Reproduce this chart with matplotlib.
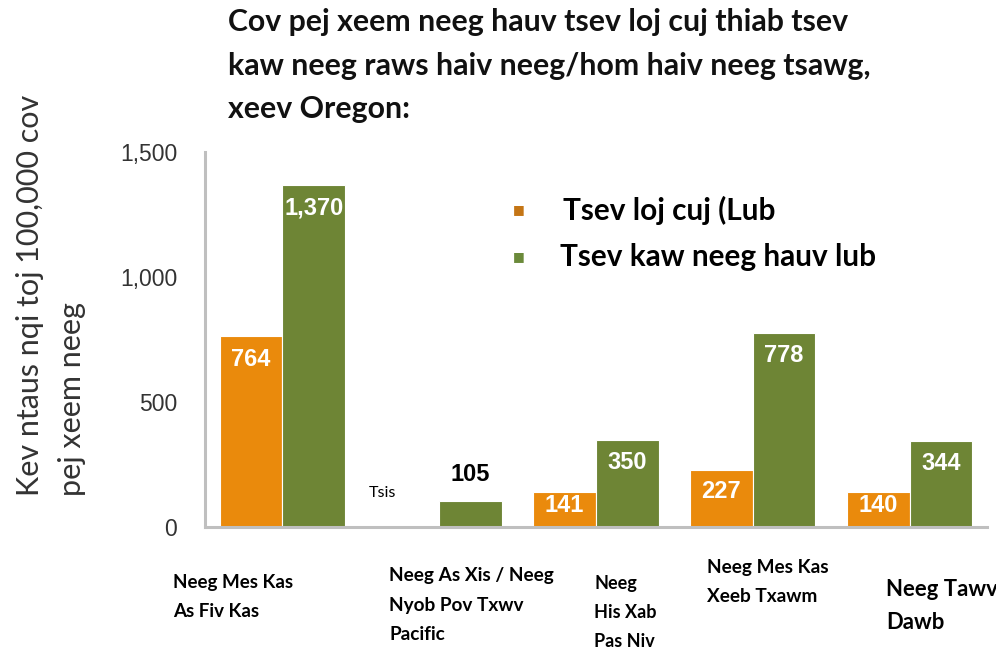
import numpy as np
import matplotlib
matplotlib.use("Agg")
import matplotlib.pyplot as plt
import matplotlib.transforms as mtransforms

# ── Data ──────────────────────────────────────────────────────────────────────
groups = [
    "Neeg Mes Kas\nAs Fiv Kas",
    "Neeg As Xis / Neeg\nNyob Pov Txwv\nPacific",
    "Neeg\nHis Xab\nPas Niv",
    "Neeg Mes Kas\nXeeb Txawm",
    "Neeg Tawv\nDawb",
]
prison = [764, np.nan, 141, 227, 140]      # Tsev loj cuj (Lub
jail = [1370, 105, 350, 778, 344]          # Tsev kaw neeg hauv lub
series_names = ["Tsev loj cuj (Lub", "Tsev kaw neeg hauv lub"]
yticks = [0, 500, 1000, 1500]
ytick_labels = ["0", "500", "1,000", "1,500"]

title = ("Cov pej xeem neeg hauv tsev loj cuj thiab tsev\n"
         "kaw neeg raws haiv neeg/hom haiv neeg tsawg,\n"
         "xeev Oregon:")
ylabel = "Kev ntaus nqi toj 100,000 cov\npej xeem neeg"

ORANGE = "#EA8A0C"
GREEN = "#6E8535"
SPINE = "#BFBFBF"

# ── Figure ────────────────────────────────────────────────────────────────────
fig = plt.figure(figsize=(9.96, 6.5), dpi=100, facecolor="white")
ax = fig.add_axes([205 / 996, 1 - 527 / 650, (987 - 205) / 996, (527 - 152) / 650])

x = np.arange(len(groups))
w = 0.40
ax.bar(x - w / 2, np.nan_to_num(prison), w, color=ORANGE, edgecolor="white",
       linewidth=0.8, zorder=2)
ax.bar(x + w / 2, jail, w, color=GREEN, edgecolor="white", linewidth=0.8, zorder=2)

ax.set_xlim(-0.494, len(groups) - 1 + 0.494)
ax.set_ylim(0, 1500)
ax.set_yticks(yticks)
ax.set_yticklabels(ytick_labels, fontsize=16.5, color="#333333",
                   family="Liberation Sans")
ax.set_xticks([])
ax.tick_params(axis="y", length=0, pad=20)
for s in ["top", "right"]:
    ax.spines[s].set_visible(False)
for s in ["left", "bottom"]:
    ax.spines[s].set_color(SPINE)
    ax.spines[s].set_linewidth(2.2)
ax.spines["left"].set_zorder(3)

# value labels
def inner_y(v):
    return max(v - 92, v * 0.62)

vfont = dict(fontsize=17, fontweight="bold", family="Liberation Sans")
for xi, v in zip(x, prison):
    if np.isnan(v):
        continue
    ax.text(xi - w / 2, inner_y(v), f"{int(v):,}", ha="center", va="center",
            color="white", **vfont)
for xi, v in zip(x, jail):
    if v < 120:
        ax.text(xi + w / 2, v + 104, f"{int(v):,}", ha="center", va="center",
                color="black", **vfont)
    else:
        ax.text(xi + w / 2, inner_y(v), f"{int(v):,}", ha="center", va="center",
                color="white", **vfont)

# "no data" note for the missing orange bar
ax.text(1 - w / 2 - 0.165, 135, "Tsis", ha="center", va="center",
        fontsize=11.5, color="black", family="Lato")

# category labels below the axis
trans = mtransforms.blended_transform_factory(ax.transData, fig.transFigure)
label_dx = [-0.70, -0.32, -0.01, -0.29, -0.15]
label_top = [574, 567, 575, 559, 579]
label_size = [13.5, 13.7, 13, 13.7, 15.9]
label_ls = [1.85, 1.9, 1.84, 1.86, 1.7]
for xi, lab, dx, top, fs, ls in zip(x, groups, label_dx, label_top, label_size, label_ls):
    ax.text(xi + dx, 1 - top / 650, lab, transform=trans, ha="left", va="top",
            fontsize=fs, fontweight="bold", family="Lato", color="black",
            linespacing=ls)

# legend
for (yy, xx, col, name) in [(210, 563, "#C47515", series_names[0]),
                            (257, 560, "#6B8A3A", series_names[1])]:
    fig.text(519 / 996, 1 - yy / 650, "\u25A0", ha="center", va="center",
             fontsize=9, color=col, family="DejaVu Sans")
    fig.text(xx / 996, 1 - yy / 650, name, ha="left", va="center",
             fontsize=21.4, fontweight="bold", family="Lato", color="black")

# title
fig.text(228 / 996, 1 - 8 / 650, title, ha="left", va="top", fontsize=21.8,
         fontweight="bold", family="Lato", color="#111111", linespacing=1.68)

# y label
fig.text(51 / 996, 1 - 295 / 650, ylabel, rotation=90, ha="center", va="center",
         fontsize=22, color="#333333", family="Lato", linespacing=1.6,
         multialignment="left")

fig.savefig("out.png", dpi=100, facecolor="white")
